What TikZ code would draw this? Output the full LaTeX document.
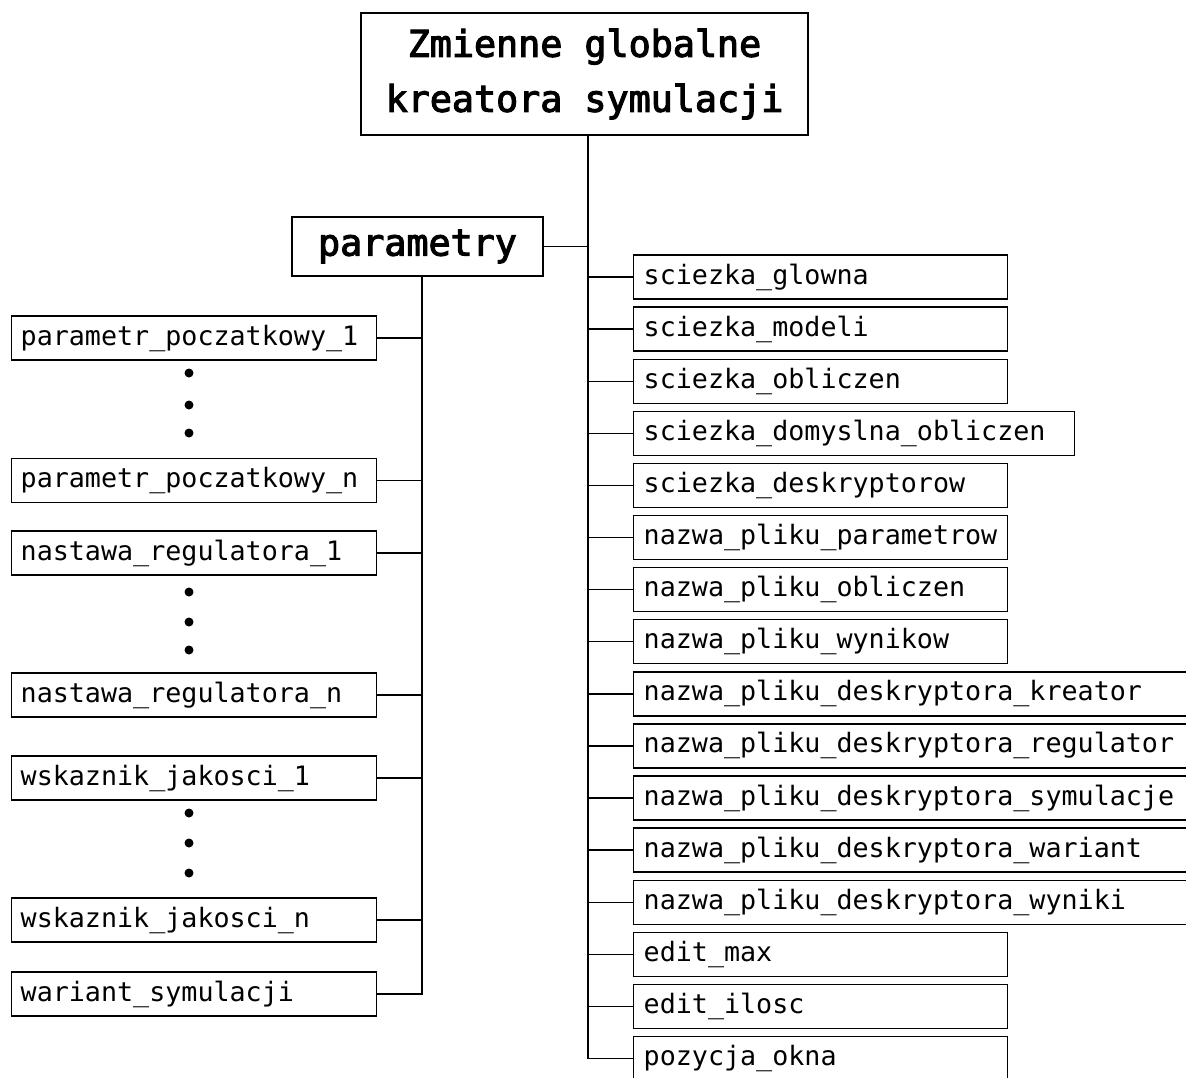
\documentclass[tikz,border=0pt]{standalone}
\usepackage{fontspec}
\newfontfamily\monofont{DejaVu Sans Mono}
\newfontfamily\headfont[FakeBold=3]{DejaVu Sans Mono}
\begin{document}
\begin{tikzpicture}[x=1pt,y=-1pt,line width=1.4pt,
  box/.style={draw,rectangle,font=\monofont\fontsize{26.7}{32}\selectfont,
    minimum height=44pt,inner ysep=0pt,anchor=west,align=left},
  lbox/.style={box,text width=347pt,inner xsep=9pt},
  rbox/.style={box,inner xsep=10pt},
  head/.style={draw,rectangle,font=\headfont\fontsize{36.7}{55}\selectfont,
    align=center,inner sep=0pt},
  dot/.style={fill=black}]
  \fill[white] (0,0) rectangle (1186,1077);
  \useasboundingbox (0,0) rectangle (1186,1077);
  \clip (0,0) rectangle (1186,1077);

  % root and the group node
  \node[head,minimum width=447pt,minimum height=122pt] (top) at (584.5,74)
    {Zmienne globalne\\kreatora symulacji};
  \node[head,minimum width=251pt,minimum height=59pt] (par) at (417.5,246.5) {parametry};

  \coordinate (rtrunk) at (588,0);
  \coordinate (ltrunk) at (422,0);

  % parameters (left column)
  \node[lbox] (l1) at (11,338) {parametr\_poczatkowy\_1};
  \node[lbox] (l2) at (11,480.5) {parametr\_poczatkowy\_n};
  \node[lbox] (l3) at (11,553) {nastawa\_regulatora\_1};
  \node[lbox] (l4) at (11,695) {nastawa\_regulatora\_n};
  \node[lbox] (l5) at (11,778) {wskaznik\_jakosci\_1};
  \node[lbox] (l6) at (11,920) {wskaznik\_jakosci\_n};
  \node[lbox] (l7) at (11,994) {wariant\_symulacji};

  \foreach \y in {373,405,433,592,622,650,813,843,873}
    \fill[dot] (189,\y) circle (4.5pt);

  % global variables (right column)
  \foreach \t/\w [count=\i from 0] in {
      sciezka\_glowna/354,
      sciezka\_modeli/354,
      sciezka\_obliczen/354,
      sciezka\_domyslna\_obliczen/421,
      sciezka\_deskryptorow/354,
      nazwa\_pliku\_parametrow/354,
      nazwa\_pliku\_obliczen/354,
      nazwa\_pliku\_wynikow/354,
      nazwa\_pliku\_deskryptora\_kreator/600,
      nazwa\_pliku\_deskryptora\_regulator/600,
      nazwa\_pliku\_deskryptora\_symulacje/600,
      nazwa\_pliku\_deskryptora\_wariant/600,
      nazwa\_pliku\_deskryptora\_wyniki/600,
      edit\_max/354,
      edit\_ilosc/354,
      pozycja\_okna/354}
    \node[rbox,text width=\w pt] (r\i) at (633,277+52.1*\i) {\t};

  % connectors
  \draw (top.south -| rtrunk) |- (r15.west);
  \draw (par.east) -- (par.east -| rtrunk);
  \foreach \i in {0,...,14}
    \draw (r\i.west) -- (r\i.west -| rtrunk);

  \draw (par.south -| ltrunk) |- (l7.east);
  \foreach \i in {1,...,6}
    \draw (l\i.east) -- (l\i.east -| ltrunk);
\end{tikzpicture}
\end{document}
